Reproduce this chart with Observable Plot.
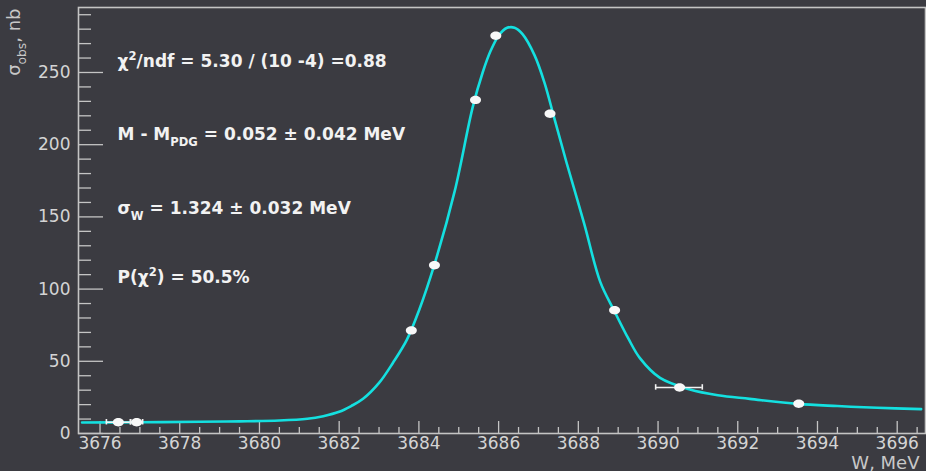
<!DOCTYPE html>
<html><head><meta charset="utf-8">
<script src="https://cdn.jsdelivr.net/npm/d3@7"></script>
<script src="https://cdn.jsdelivr.net/npm/@observablehq/plot@0.6"></script>
<style>
html,body{margin:0;padding:0;background:#3b3b41;overflow:hidden;}
#chart svg{display:block;}
</style></head><body><div id="chart"></div>
<script>
// ---- measured points ----
const pointW     = [3676.46, 3676.92, 3683.81, 3684.39, 3685.42, 3685.93, 3687.29, 3688.91, 3690.54, 3693.53];
const pointSigma = [7.8, 7.8, 71.4, 116.5, 231.0, 275.4, 221.4, 85.4, 31.9, 20.6];
const pointErrLo = [0.30, 0.15, 0, 0, 0, 0, 0, 0, 0.60, 0];
const pointErrHi = [0.30, 0.15, 0, 0, 0, 0, 0, 0, 0.57, 0];

// ---- fit curve ----
const fitW = [3675.55, 3677.0, 3678.5, 3679.5, 3680.5, 3681.2, 3681.6, 3682.0, 3682.3, 3682.6,
              3683.0, 3683.35, 3683.7, 3684.0, 3684.4, 3684.9, 3685.35, 3685.6, 3685.8, 3686.0,
              3686.2, 3686.4, 3686.6, 3686.9, 3687.15, 3687.4, 3687.7, 3688.15, 3688.55, 3688.9,
              3689.25, 3689.55, 3690.05, 3690.8, 3691.5, 3692.3, 3693.5, 3694.5, 3695.5, 3696.6];
const fitSigma = [7.6, 7.8, 8.1, 8.4, 9.0, 10.2, 12.0, 15.0, 19.0, 24.0,
                  35.0, 49.0, 65.0, 85.0, 118.0, 168.0, 226.0, 250.0, 265.0, 275.5,
                  280.8, 281.0, 276.5, 262.0, 243.0, 218.0, 188.0, 145.0, 105.0, 85.0,
                  66.0, 52.0, 38.5, 30.5, 26.5, 24.0, 20.5, 19.0, 17.8, 16.9];

// ---- axes ----
const xTicks = [3676, 3678, 3680, 3682, 3684, 3686, 3688, 3690, 3692, 3694, 3696];
const yTicks = [0, 50, 100, 150, 200, 250];
const xDomain = [3675.46, 3696.71];
const yDomain = [0, 295];
const xTitle = "W, MeV";
const yTitle = "σ_{obs}, nb";

// ---- annotation text ----
const annoText = [
  "χ^{2}/ndf = 5.30 / (10 -4) =0.88",
  "M - M_{PDG} = 0.052 ± 0.042 MeV",
  "σ_{W} = 1.324 ± 0.032 MeV",
  "P(χ^{2}) = 50.5%"
];
const annoY = [254, 203, 152, 104];
const annoX = 3676.44;

const W = 926, H = 471;
const mL = 78, mR = 1, mT = 7, mB = 38;
const frameW = W - mL - mR, frameH = H - mT - mB;

const points = pointW.map((w, i) => ({w, s: pointSigma[i], lo: w - pointErrLo[i], hi: w + pointErrHi[i], e: pointErrLo[i] + pointErrHi[i]}));
const errPts = points.filter(d => d.e > 0);
const caps = errPts.flatMap(d => [{w: d.lo, s: d.s}, {w: d.hi, s: d.s}]);
const fit = fitW.map((w, i) => ({w, s: fitSigma[i]}));
const anno = annoText.map((t, i) => ({t, y: annoY[i]}));

const xMinor = d3.range(3676.5, 3696.75, 0.5).filter(v => !xTicks.includes(v));
const yMinor = d3.range(10, 295, 10).filter(v => v % 50 !== 0);

const ellipse = {
  draw(ctx) {
    const rx = 5.5, ry = 4.2, k = 0.5523;
    ctx.moveTo(rx, 0);
    ctx.bezierCurveTo(rx, ry * k, rx * k, ry, 0, ry);
    ctx.bezierCurveTo(-rx * k, ry, -rx, ry * k, -rx, 0);
    ctx.bezierCurveTo(-rx, -ry * k, -rx * k, -ry, 0, -ry);
    ctx.bezierCurveTo(rx * k, -ry, rx, -ry * k, rx, 0);
    ctx.closePath();
  }
};

const axisCol = "#c4c4c4";
const labelCol = "#d4d4d4";

const chart = Plot.plot({
  width: W, height: H,
  marginLeft: mL, marginRight: mR, marginTop: mT, marginBottom: mB,
  x: {domain: xDomain},
  y: {domain: yDomain},
  style: {background: "#3b3b41", color: labelCol, fontFamily: "DejaVu Sans, sans-serif", fontSize: "17px", overflow: "visible"},
  marks: [
    Plot.ruleY(yTicks, {stroke: axisCol, strokeWidth: 1.3, insetRight: frameW - 25}),
    Plot.ruleY(yMinor, {stroke: axisCol, strokeWidth: 1.3, insetRight: frameW - 13}),
    Plot.ruleX(xTicks, {stroke: axisCol, strokeWidth: 1.3, insetTop: frameH - 12}),
    Plot.ruleX(xMinor, {stroke: axisCol, strokeWidth: 1.3, insetTop: frameH - 6}),
    Plot.frame({stroke: axisCol, strokeWidth: 1.6}),
    Plot.axisX({ticks: xTicks, tickSize: 0, tickPadding: 3, tickFormat: d => String(d), label: null, fontSize: 17, fill: labelCol}),
    Plot.axisY({ticks: yTicks, tickSize: 0, tickPadding: 8, tickFormat: d => String(d), label: null, fontSize: 17, fill: labelCol}),
    Plot.text([yTitle], {text: d => d, frameAnchor: "top-left", rotate: -90, textAnchor: "end", lineAnchor: "bottom", dx: -59, dy: 1, fontSize: 18, fill: "#c8c8c8"}),
    Plot.text([xTitle], {text: d => d, frameAnchor: "bottom-right", textAnchor: "end", lineAnchor: "bottom", dx: -6, dy: 35, fontSize: 18, fill: "#c8c8c8"}),
    Plot.line(fit, {x: "w", y: "s", stroke: "#14e0e0", strokeWidth: 2.6, curve: "catmull-rom"}),
    Plot.ruleY(errPts, {y: "s", x1: "lo", x2: "hi", stroke: "#f2f2f2", strokeWidth: 1.6}),
    Plot.ruleX(caps, {x: "w", y1: d => d.s - 1.9, y2: d => d.s + 1.9, stroke: "#f2f2f2", strokeWidth: 1.6}),
    Plot.dot(points, {x: "w", y: "s", symbol: ellipse, r: 5, fill: "#f8f8f8", stroke: "none"}),
    Plot.text(anno, {x: () => annoX, y: "y", text: "t", textAnchor: "start", lineAnchor: "bottom", fontSize: 17, fontWeight: "bold", fontFamily: "DejaVu Sans, sans-serif", fill: "#f2f2f2"})
  ]
});

// rich-text: turn _{..} and ^{..} into sub/superscripts
function rich(el) {
  const s = el.textContent;
  if (!/[_^]\{/.test(s)) return;
  const holder = el.closest("[font-size]");
  const fs = parseFloat(el.getAttribute("font-size") || (holder && holder.getAttribute("font-size")) || 17);
  el.textContent = "";
  const ns = "http://www.w3.org/2000/svg";
  const re = /([_^])\{([^}]*)\}/g;
  let last = 0, shift = 0, m;
  const add = (txt, dy, size) => {
    if (!txt && dy === 0) return;
    const t = document.createElementNS(ns, "tspan");
    if (dy) t.setAttribute("dy", dy);
    if (size) t.setAttribute("font-size", size);
    t.textContent = txt;
    el.appendChild(t);
  };
  while ((m = re.exec(s))) {
    const before = s.slice(last, m.index);
    if (before) { add(before, -shift, null); shift = 0; }
    const d = m[1] === "_" ? 0.36 * fs : -0.42 * fs;
    add(m[2], d - shift, 0.68 * fs);
    shift = d;
    last = re.lastIndex;
  }
  const rest = s.slice(last);
  if (rest) add(rest, -shift, null);
}
chart.querySelectorAll("text").forEach(rich);

document.getElementById("chart").appendChild(chart);
</script>
</body></html>
